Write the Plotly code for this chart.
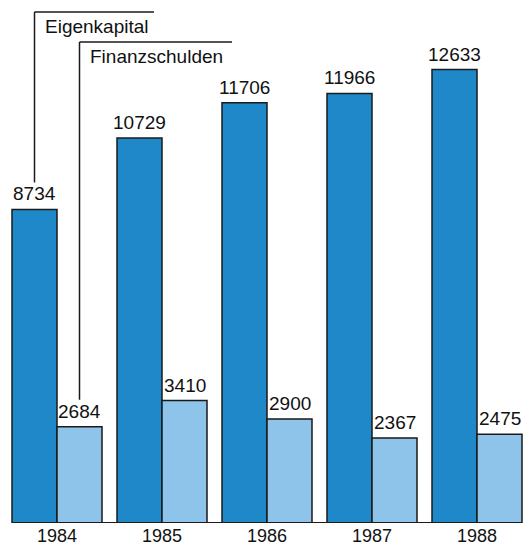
import plotly.graph_objects as go

# Balance sheet figures (Mio. DM)
years = ["1984", "1985", "1986", "1987", "1988"]
eigenkapital = [8734, 10729, 11706, 11966, 12633]
finanzschulden = [2684, 3410, 2900, 2367, 2475]
series_names = ["Eigenkapital", "Finanzschulden"]

DARK = "#1f88c9"
LIGHT = "#8ec3ea"
EDGE = "#1a1a1a"
FONT = "Liberation Sans, Arial, sans-serif"

W, H = 528, 550
MB = 27                 # bottom margin in px
PH = H - MB             # plot height in px
YMAX = 14570
PPU = PH / YMAX         # px per data unit

GROUP_W = 90 / 105      # share of a category occupied by the bar pair
OFF = GROUP_W / 4       # offset of each bar centre from the category centre

x = list(range(len(years)))

fig = go.Figure()
for name, vals, col, sgn in [(series_names[0], eigenkapital, DARK, -1),
                             (series_names[1], finanzschulden, LIGHT, 1)]:
    fig.add_trace(go.Bar(
        x=x, y=vals, name=name,
        marker=dict(color=col, line=dict(color=EDGE, width=1.5)),
        showlegend=False,
    ))
    for xi, v in zip(x, vals):
        fig.add_annotation(
            x=xi + sgn * OFF, y=v, xref="x", yref="y",
            text=f"{v}", showarrow=False, yanchor="bottom", xanchor="center",
            yshift=3, font=dict(family=FONT, size=19, color="#111"),
        )

# Year labels under the baseline
for xi, yr in zip(x, years):
    fig.add_annotation(
        x=xi, y=0, xref="x", yref="y", text=yr, showarrow=False,
        yanchor="top", xanchor="center", yshift=-1,
        font=dict(family=FONT, size=18, color="#111"),
    )

# Leader-line labels for the two series, hooked onto the 1984 bars
def px_to_paper(py):
    return 1 - py / PH

legend_specs = [
    # (series index, value, line top px, line right px)
    (0, eigenkapital[0], 12, 154),
    (1, finanzschulden[0], 42, 232),
]
for idx, v, top_px, right_px in legend_specs:
    sgn = -1 if idx == 0 else 1
    xc = x[0] + sgn * OFF
    y_bottom = v + 27 / PPU
    y_top = YMAX * px_to_paper(top_px)
    fig.add_shape(type="line", xref="x", yref="y",
                  x0=xc, x1=xc, y0=y_bottom, y1=y_top,
                  line=dict(color=EDGE, width=1.5))
    fig.add_shape(type="line", xref="x", yref="y",
                  x0=xc, x1=(right_px - 57) / 105, y0=y_top, y1=y_top,
                  line=dict(color=EDGE, width=1.5))
    fig.add_annotation(
        x=xc, y=y_top, xref="x", yref="y", text=series_names[idx],
        showarrow=False, xanchor="left", yanchor="top", xshift=8, yshift=-2,
        font=dict(family=FONT, size=19, color="#111"),
    )

fig.update_layout(
    width=W, height=H,
    margin=dict(l=0, r=0, t=0, b=MB),
    paper_bgcolor="white", plot_bgcolor="white",
    barmode="group", bargap=1 - GROUP_W, bargroupgap=0,
    xaxis=dict(range=[-57 / 105, (W - 57) / 105], showticklabels=False,
               showgrid=False, zeroline=False, showline=False, ticks=""),
    yaxis=dict(range=[0, YMAX], showticklabels=False, showgrid=False,
               zeroline=False, showline=False, ticks=""),
)

# Baseline under the bars
fig.add_shape(type="line", xref="x", yref="y",
              x0=x[0] - GROUP_W / 2, x1=x[-1] + GROUP_W / 2, y0=0, y1=0,
              line=dict(color=EDGE, width=2))

fig.write_html("out.html")
